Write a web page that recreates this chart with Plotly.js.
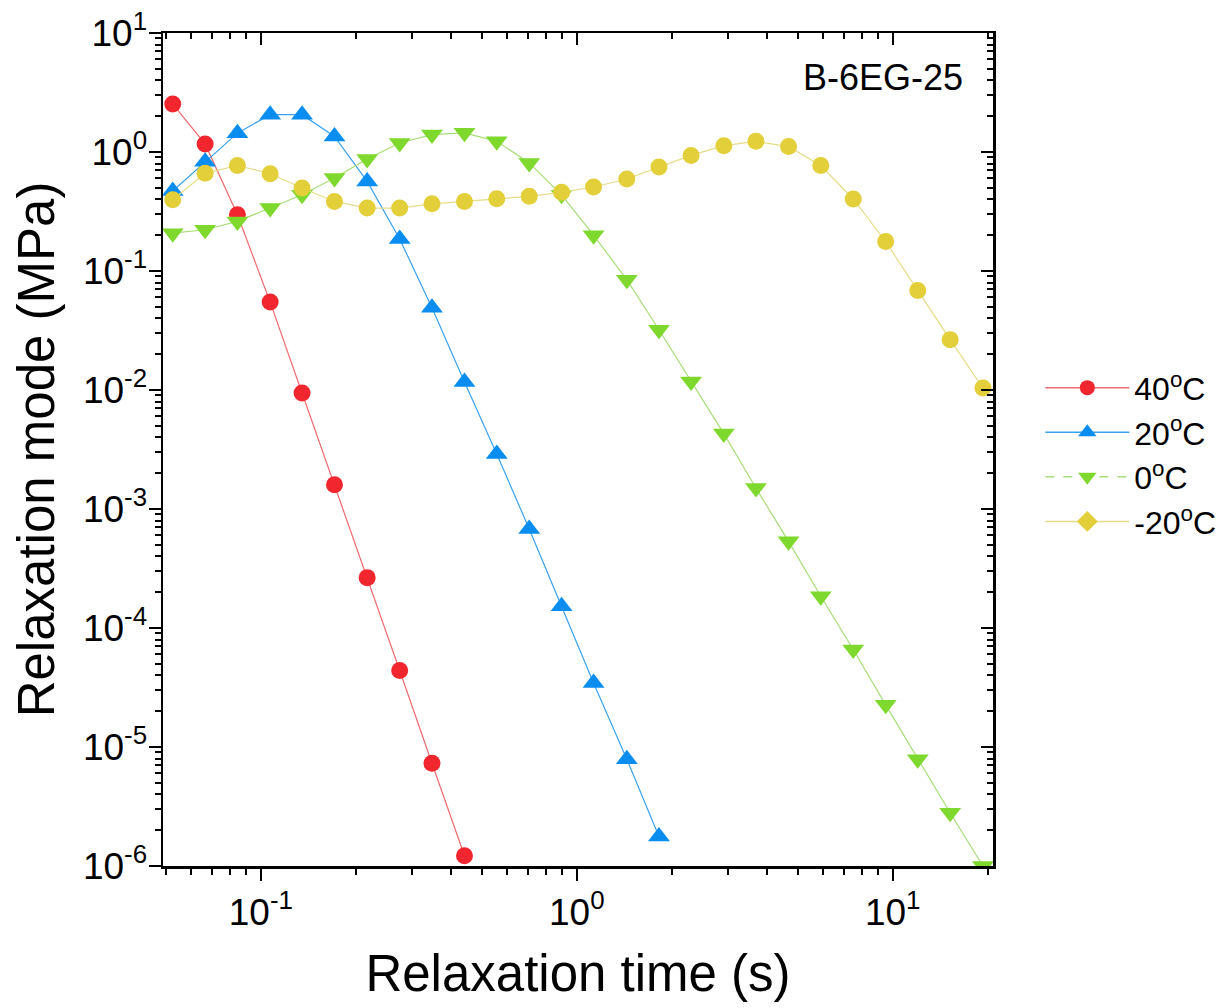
<!DOCTYPE html>
<html>
<head>
<meta charset="utf-8">
<script src="https://cdn.plot.ly/plotly-3.0.1.min.js"></script>
<style>html,body{margin:0;padding:0;background:#fff;}#chart{width:1227px;height:1008px;}</style>
</head>
<body>
<div id="chart"></div>
<script>
// Relaxation time (s) for each series
const time40 = [0.0526, 0.0666, 0.0843, 0.107, 0.135, 0.171, 0.217, 0.275, 0.348, 0.441];
const time20 = [0.0526, 0.0666, 0.0843, 0.107, 0.135, 0.171, 0.217, 0.275, 0.348, 0.441, 0.558, 0.707, 0.895, 1.13, 1.44, 1.82];
const time0 = [0.0526, 0.0666, 0.0843, 0.107, 0.135, 0.171, 0.217, 0.275, 0.348, 0.441, 0.558, 0.707, 0.895, 1.13, 1.44, 1.82, 2.30, 2.92, 3.69, 4.68, 5.92, 7.50, 9.50, 12.0, 15.2, 19.3];
const timeM20 = [0.0526, 0.0666, 0.0843, 0.107, 0.135, 0.171, 0.217, 0.275, 0.348, 0.441, 0.558, 0.707, 0.895, 1.13, 1.44, 1.82, 2.30, 2.92, 3.69, 4.68, 5.92, 7.50, 9.50, 12.0, 15.2, 19.3];

// Relaxation mode (MPa)
const mode40 = [2.53, 1.17, 0.297, 0.0548, 0.00944, 0.0016, 0.000265, 4.4e-5, 7.3e-6, 1.22e-6];
const mode20 = [0.47, 0.83, 1.44, 2.06, 2.06, 1.35, 0.566, 0.186, 0.049, 0.0117, 0.0029, 6.8e-4, 1.52e-4, 3.45e-5, 7.9e-6, 1.77e-6];
const mode0 = [0.208, 0.222, 0.261, 0.338, 0.437, 0.604, 0.873, 1.19, 1.40, 1.45, 1.23, 0.81, 0.437, 0.20, 0.0845, 0.0321, 0.0118, 0.0043, 0.0015, 5.35e-4, 1.85e-4, 6.6e-5, 2.26e-5, 7.9e-6, 2.8e-6, 1.0e-6];
const modeM20 = [0.397, 0.662, 0.77, 0.656, 0.498, 0.384, 0.338, 0.338, 0.367, 0.384, 0.405, 0.424, 0.458, 0.508, 0.593, 0.748, 0.936, 1.13, 1.23, 1.11, 0.77, 0.403, 0.177, 0.0687, 0.0265, 0.0104];

const seriesNames = ['40<sup>o</sup>C', '20<sup>o</sup>C', '0<sup>o</sup>C', '-20<sup>o</sup>C'];

// Tick labels
const xTickVals = [0.1, 1, 10];
const xTickText = ['10<sup>-1</sup>', '10<sup>0</sup>', '10<sup>1</sup>'];
const yTickVals = [1e-6, 1e-5, 1e-4, 1e-3, 1e-2, 1e-1, 1, 10];
const yTickText = ['10<sup>-6</sup>', '10<sup>-5</sup>', '10<sup>-4</sup>', '10<sup>-3</sup>', '10<sup>-2</sup>', '10<sup>-1</sup>', '10<sup>0</sup>', '10<sup>1</sup>'];
const xMinorVals = [0.05, 0.06, 0.07, 0.08, 0.09, 0.2, 0.3, 0.4, 0.5, 0.6, 0.7, 0.8, 0.9, 2, 3, 4, 5, 6, 7, 8, 9, 20];
const yMinorVals = [];
[1e-6, 1e-5, 1e-4, 1e-3, 1e-2, 1e-1, 1].forEach(function (d) {
  [2, 3, 4, 5, 6, 7, 8, 9].forEach(function (k) { yMinorVals.push(+(d * k).toPrecision(3)); });
});

const FONT = 'Liberation Sans, Arial, Helvetica, sans-serif';
const C = {
  red: '#f2262e', redLine: '#f06a6e',
  blue: '#0a8df0', blueLine: '#3aa2ef',
  green: '#7fd82e', greenLine: '#a8de78',
  yellow: '#e2cf39', yellowLine: '#e6dc88'
};

const data = [
  {x: time40, y: mode40, mode: 'lines+markers', showlegend: false, cliponaxis: true,
   line: {color: C.redLine, width: 1.2}, marker: {symbol: 'circle', size: 17, color: C.red}},
  {x: time20, y: mode20, mode: 'lines+markers', showlegend: false, cliponaxis: true,
   line: {color: C.blueLine, width: 1.2}, marker: {symbol: 'triangle-up', size: 19, color: C.blue}},
  {x: time0, y: mode0, mode: 'lines+markers', showlegend: false, cliponaxis: true,
   line: {color: C.greenLine, width: 1.2}, marker: {symbol: 'triangle-down', size: 19, color: C.green}},
  {x: timeM20, y: modeM20, mode: 'lines+markers', showlegend: false, cliponaxis: true,
   line: {color: C.yellowLine, width: 1.2}, marker: {symbol: 'circle', size: 17, color: C.yellow}},
  // legend entries
  {x: [null], y: [null], mode: 'lines+markers', name: seriesNames[0], hoverinfo: 'skip',
   line: {color: C.redLine, width: 1.5}, marker: {symbol: 'circle', size: 15, color: C.red}},
  {x: [null], y: [null], mode: 'lines+markers', name: seriesNames[1], hoverinfo: 'skip',
   line: {color: C.blueLine, width: 1.5}, marker: {symbol: 'triangle-up', size: 17, color: C.blue}},
  {x: [null], y: [null], mode: 'lines+markers', name: seriesNames[2], hoverinfo: 'skip',
   line: {color: C.greenLine, width: 1.5, dash: 'dash'}, marker: {symbol: 'triangle-down', size: 17, color: C.green}},
  {x: [null], y: [null], mode: 'lines+markers', name: seriesNames[3], hoverinfo: 'skip',
   line: {color: C.yellowLine, width: 1.5}, marker: {symbol: 'diamond', size: 16, color: C.yellow}},
  // carrier for the top/right mirror axes
  {x: [null], y: [null], xaxis: 'x2', yaxis: 'y2', mode: 'markers', showlegend: false, hoverinfo: 'skip'}
];

const xRange = [Math.log10(0.049), Math.log10(20.77)];
const yRange = [-6, 1];

const layout = {
  width: 1227, height: 1008,
  margin: {l: 163, r: 234, t: 33, b: 142, pad: 0, autoexpand: false},
  paper_bgcolor: '#ffffff', plot_bgcolor: '#ffffff',
  font: {family: FONT, color: '#000'},
  showlegend: true,
  legend: {
    x: 1.057, xanchor: 'left', y: 0.607, yanchor: 'top',
    font: {family: FONT, size: 32, color: '#000'},
    bgcolor: 'rgba(0,0,0,0)', borderwidth: 0, itemwidth: 84, tracegroupgap: 0
  },
  xaxis: {
    type: 'log', range: xRange, autorange: false,
    showline: true, linecolor: '#000', linewidth: 2.5, mirror: false,
    ticks: 'outside', ticklen: 12, tickwidth: 2, tickcolor: '#000',
    tickmode: 'array', tickvals: xTickVals, ticktext: xTickText,
    tickfont: {family: FONT, size: 37, color: '#000'},
    minor: {ticks: 'outside', ticklen: 6, tickwidth: 2, tickcolor: '#000', tickmode: 'array', tickvals: xMinorVals, showgrid: false},
    showgrid: false, zeroline: false,
    title: {text: 'Relaxation time (s)', font: {family: FONT, size: 51, color: '#000'}, standoff: 24}
  },
  yaxis: {
    type: 'log', range: yRange, autorange: false,
    showline: true, linecolor: '#000', linewidth: 2.5, mirror: false,
    ticks: 'outside', ticklen: 12, tickwidth: 2, tickcolor: '#000',
    tickmode: 'array', tickvals: yTickVals, ticktext: yTickText,
    tickfont: {family: FONT, size: 37, color: '#000'},
    ticklabelstandoff: -6,
    minor: {ticks: 'outside', ticklen: 6, tickwidth: 2, tickcolor: '#000', tickmode: 'array', tickvals: yMinorVals, showgrid: false},
    showgrid: false, zeroline: false,
    title: {text: 'Relaxation mode (MPa)', font: {family: FONT, size: 51, color: '#000'}, standoff: 12}
  },
  xaxis2: {
    type: 'log', range: xRange, autorange: false, overlaying: 'x', side: 'top', anchor: 'y2',
    showline: true, linecolor: '#000', linewidth: 2.5,
    ticks: 'inside', ticklen: 12, tickwidth: 2, tickcolor: '#000',
    tickmode: 'array', tickvals: xTickVals, showticklabels: false,
    minor: {ticks: 'inside', ticklen: 6, tickwidth: 2, tickcolor: '#000', tickmode: 'array', tickvals: xMinorVals, showgrid: false},
    showgrid: false, zeroline: false
  },
  yaxis2: {
    type: 'log', range: yRange, autorange: false, overlaying: 'y', side: 'right', anchor: 'x2',
    showline: true, linecolor: '#000', linewidth: 2.5,
    ticks: 'inside', ticklen: 12, tickwidth: 2, tickcolor: '#000',
    tickmode: 'array', tickvals: yTickVals, showticklabels: false,
    minor: {ticks: 'inside', ticklen: 6, tickwidth: 2, tickcolor: '#000', tickmode: 'array', tickvals: yMinorVals, showgrid: false},
    showgrid: false, zeroline: false
  },
  annotations: [
    {text: 'B-6EG-25', xref: 'paper', yref: 'paper', x: 0.966, y: 0.946, xanchor: 'right', yanchor: 'middle',
     showarrow: false, font: {family: FONT, size: 36, color: '#000'}}
  ]
};

Plotly.newPlot('chart', data, layout, {displayModeBar: false, staticPlot: true});
</script>
</body>
</html>
